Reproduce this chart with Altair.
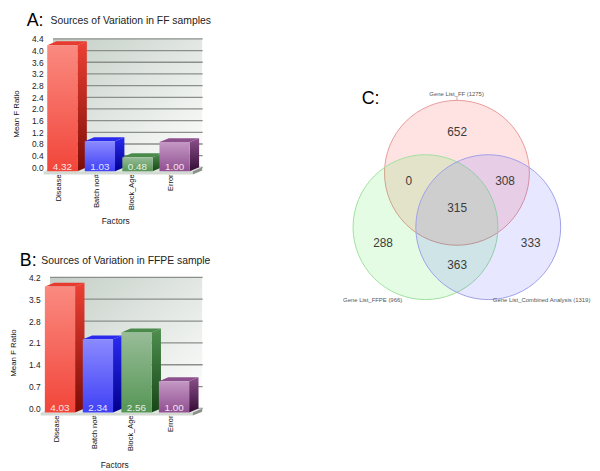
import altair as alt
import pandas as pd

FONT = "Liberation Sans"

factors = ["Disease", "Batch no#", "Block_Age", "Error"]
ff_values = [4.32, 1.03, 0.48, 1.00]
ffpe_values = [4.03, 2.34, 2.56, 1.00]
ff_ticks = [0.0, 0.4, 0.8, 1.2, 1.6, 2.0, 2.4, 2.8, 3.2, 3.6, 4.0, 4.4]
ffpe_ticks = [0.0, 0.7, 1.4, 2.1, 2.8, 3.5, 4.2]

# (front-top, front-bottom, side-top, side-bottom, top face)
bar_colors = [
    ("#fa8a80", "#f2453a", "#ee4034", "#7c0d06", "#e83a2e"),
    ("#8a8aff", "#4040f6", "#2a2af2", "#00008c", "#2a2aee"),
    ("#98bc98", "#559655", "#4f8f4f", "#164616", "#4a8a4a"),
    ("#c498c4", "#904f90", "#8c508c", "#340c34", "#8c508c"),
]

venn_names = ["Gene List_FF (1275)", "Gene List_FFPE (966)", "Gene List_Combined Analysis (1319)"]
venn_counts = ["652", "0", "308", "315", "288", "333", "363"]
venn_count_x = [119.5, 70.5, 168, 119.5, 44.5, 194, 119.5]
venn_count_y = [123, 172, 172, 200, 235, 235, 257]
venn_name_x = [119, 34, 205]
venn_name_y = [84, 292.7, 292.7]
circle_x = [119.3, 87.5, 151]
circle_y = [164, 219, 219]
circle_fill = ["#ff0000", "#00e000", "#2020ff"]
circle_stroke = ["#e89a9a", "#a0e0a0", "#a0a0e8"]

PANEL_W = 164


def grad(c0, c1, x2=0, y2=1):
    return alt.Gradient(gradient="linear", x1=0, y1=0, x2=x2, y2=y2,
                        stops=[alt.GradientStop(color=c0, offset=0),
                               alt.GradientStop(color=c1, offset=1)])


def panel(values, ticks, letter, title, title_x, letter_x, view_h, pzero, ppu, off,
          lefts, label_x, floor_x, ylab_x, ylab_y, factors_x, factors_y, title_y):
    # ppu: pixels per data unit; pzero: pixel row (inside the view) of value 0
    top = pzero / ppu
    bottom = -(view_h - pzero) / ppu
    dom_y = alt.Scale(domain=[bottom, top], nice=False, zero=False)
    dom_x = alt.Scale(domain=[0, PANEL_W], nice=False, zero=False)
    X = alt.X("x:Q", scale=dom_x, axis=None)
    y_axis = alt.Axis(values=ticks, format=".1f", title="Mean F Ratio",
                      domain=False, ticks=False, grid=False, offset=off,
                      labelPadding=0.5, labelFont=FONT, labelFontSize=8.5,
                      labelColor="#222222", titleFont=FONT, titleFontSize=8,
                      titleFontWeight="normal", titleColor="#111111",
                      titleX=ylab_x, titleY=ylab_y, titleAngle=270)
    Y = alt.Y("y:Q", scale=dom_y, axis=y_axis, stack=None)
    dep_x, dep_y, w = 9.5, 4 / ppu, 30.6
    wall0, wall1 = floor_x + dep_x, 163.5
    ymax = ticks[-1]

    layers = []
    # back wall
    layers.append(
        alt.Chart(pd.DataFrame({"x": [wall0], "x2": [wall1], "y": [0.0], "y2": [ymax]}))
        .mark_rect(color=grad("#c4cec6", "#ffffff", 1, 1))
        .encode(x=X, x2="x2:Q", y=Y, y2="y2:Q")
    )
    # grid lines on the wall
    layers.append(
        alt.Chart(pd.DataFrame({"x": [wall0] * len(ticks), "x2": [wall1 + 0.5] * len(ticks), "y": ticks}))
        .mark_rule(color="#8a8f8a", strokeWidth=1.3)
        .encode(x=X, x2="x2:Q", y=Y)
    )
    # floor: top surface, front strip, right end
    floor_r = wall1 - dep_x
    layers.append(
        alt.Chart(pd.DataFrame({"x": [floor_x, floor_x + dep_x, floor_r, floor_r + dep_x],
                                "y": [-dep_y, 0, 0, 0], "y2": [-dep_y, -dep_y, -dep_y, 0]}))
        .mark_area(color="#dfe5df", orient="vertical").encode(x=X, y=Y, y2="y2:Q")
    )
    layers.append(
        alt.Chart(pd.DataFrame({"x": [floor_x], "x2": [floor_r], "y": [-dep_y], "y2": [-dep_y - 3.2 / ppu]}))
        .mark_rect(color="#d3dad3").encode(x=X, x2="x2:Q", y=Y, y2="y2:Q")
    )
    layers.append(
        alt.Chart(pd.DataFrame({"x": [floor_r, floor_r + dep_x], "y": [-dep_y, 0],
                                "y2": [-dep_y - 3.2 / ppu, -3.2 / ppu]}))
        .mark_area(color="#8c918c", orient="vertical").encode(x=X, y=Y, y2="y2:Q")
    )
    # bars
    for v, l, col in zip(values, lefts, bar_colors):
        r = l + w
        layers.append(
            alt.Chart(pd.DataFrame({"x": [r, r + dep_x], "y": [v - dep_y, v], "y2": [-dep_y, 0]}))
            .mark_area(color=grad(col[2], col[3]), orient="vertical").encode(x=X, y=Y, y2="y2:Q")
        )
        layers.append(
            alt.Chart(pd.DataFrame({"x": [l, l + dep_x, r, r + dep_x],
                                    "y": [v - dep_y, v, v, v],
                                    "y2": [v - dep_y, v - dep_y, v - dep_y, v]}))
            .mark_area(color=col[4], orient="vertical").encode(x=X, y=Y, y2="y2:Q")
        )
        layers.append(
            alt.Chart(pd.DataFrame({"x": [l], "x2": [r], "y": [v - dep_y], "y2": [-dep_y]}))
            .mark_rect(color=grad(col[0], col[1])).encode(x=X, x2="x2:Q", y=Y, y2="y2:Q")
        )
    # value labels
    layers.append(
        alt.Chart(pd.DataFrame({"x": [l + w / 2 for l in lefts], "y": [-dep_y + 4.5 / ppu] * 4,
                                "t": [f"{v:.2f}" for v in values]}))
        .mark_text(font=FONT, fontSize=10, color="#ffffff", opacity=0.85, baseline="middle")
        .encode(x=X, y=Y, text="t:N")
    )
    # factor names
    layers.append(
        alt.Chart(pd.DataFrame({"x": label_x, "y": [-dep_y - 3.2 / ppu] * 4, "t": factors}))
        .mark_text(font=FONT, fontSize=7.5, color="#111111", angle=270, align="right", baseline="middle")
        .encode(x=X, y=Y, text="t:N")
    )
    layers.append(
        alt.Chart(pd.DataFrame({"x": [factors_x], "y": [factors_y], "t": ["Factors"]}))
        .mark_text(font=FONT, fontSize=8.5, color="#222222")
        .encode(x=X, y=Y, text="t:N")
    )
    # heading
    layers.append(
        alt.Chart(pd.DataFrame({"x": [letter_x], "y": [title_y], "t": [letter]}))
        .mark_text(font=FONT, fontSize=18, color="#000000", align="left", baseline="middle")
        .encode(x=X, y=Y, text="t:N")
    )
    layers.append(
        alt.Chart(pd.DataFrame({"x": [title_x], "y": [title_y], "t": [title]}))
        .mark_text(font=FONT, fontSize=10.5, color="#222222", align="left", baseline="middle")
        .encode(x=X, y=Y, text="t:N")
    )
    return alt.layer(*layers).properties(width=PANEL_W, height=view_h)


a = panel(ff_values, ff_ticks, "A:", "Sources of Variation in FF samples", 10, -14, 224,
          158.5, 29.55, -3, [6.7, 44.7, 82.7, 120.3], [19, 57, 93, 132], 3, -23, 104,
          76, -1.83, 5.0)
b = panel(ffpe_values, ffpe_ticks, "B:", "Sources of Variation in FFPE sample", 0.7, -21, 230,
          170.5, 31.6, 0, [4.3, 42.7, 81.7, 119.7], [16.7, 55, 91.7, 132], 0, -23, 114,
          75, -1.8, 4.73)

vx = alt.Scale(domain=[0, 256], nice=False, zero=False)
vy = alt.Scale(domain=[462, 0], nice=False, zero=False)
X = alt.X("x:Q", scale=vx, axis=None)
Y = alt.Y("y:Q", scale=vy, axis=None)

circles = [
    alt.Chart(pd.DataFrame({"x": [cx], "y": [cy]}))
    .mark_point(shape="circle", filled=True, size=21490, fill=f, fillOpacity=0.11,
                stroke=s, strokeWidth=1, strokeOpacity=1, opacity=1)
    .encode(x=X, y=Y)
    for cx, cy, f, s in zip(circle_x, circle_y, circle_fill, circle_stroke)
]
leader = (alt.Chart(pd.DataFrame({"x": [circle_x[0]], "y": [87.5], "y2": [91]}))
          .mark_rule(color="#e89a9a", strokeWidth=1)
          .encode(x=X, y=Y, y2="y2:Q"))
counts = (alt.Chart(pd.DataFrame({"x": venn_count_x, "y": venn_count_y, "t": venn_counts}))
          .mark_text(font=FONT, fontSize=12, color="#3c3c3c", baseline="middle")
          .encode(x=X, y=Y, text="t:N"))
names = (alt.Chart(pd.DataFrame({"x": venn_name_x, "y": venn_name_y, "t": venn_names}))
         .mark_text(font=FONT, fontSize=6, color="#555555", baseline="middle")
         .encode(x=X, y=Y, text="t:N"))
letter_c = (alt.Chart(pd.DataFrame({"x": [23], "y": [89], "t": ["C:"]}))
            .mark_text(font=FONT, fontSize=18, color="#000000", align="left", baseline="middle")
            .encode(x=X, y=Y, text="t:N"))
c = alt.layer(*circles, leader, counts, names, letter_c).properties(width=256, height=462)

left = alt.vconcat(a, b, spacing=8, bounds="flush")
chart = (alt.hconcat(left, c, spacing=302, bounds="flush")
         .properties(padding={"left": 2, "top": 0, "right": 0, "bottom": 0})
         .configure_view(stroke=None))

chart.save("out.html", embed_options={"renderer": "svg", "actions": False})
